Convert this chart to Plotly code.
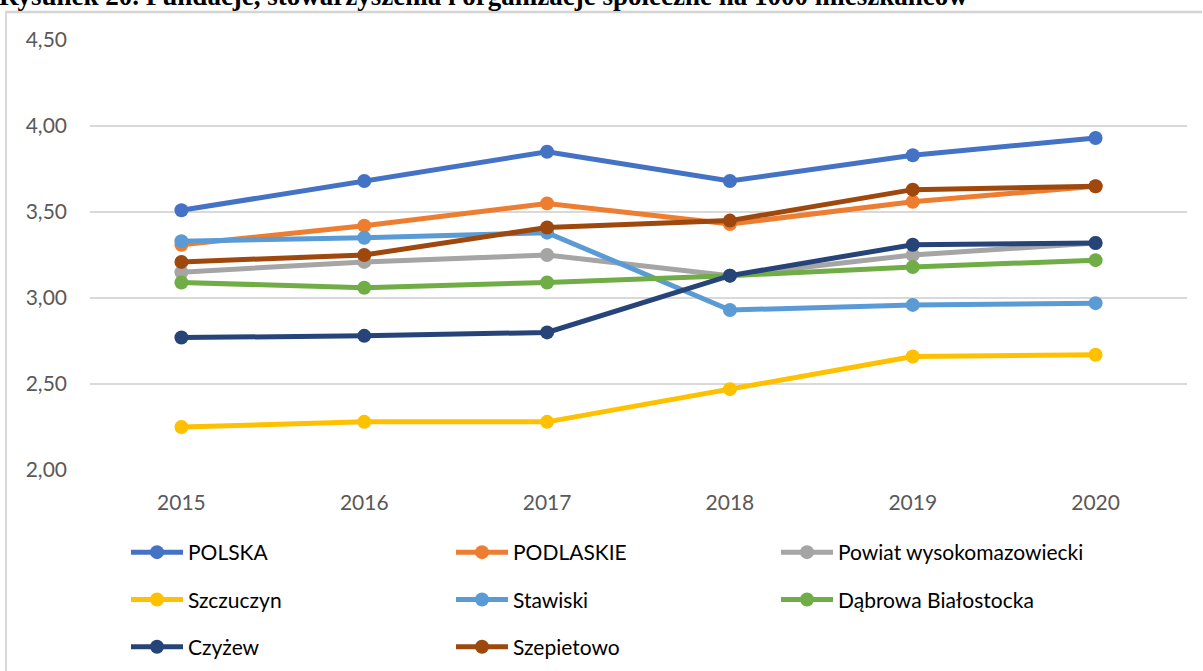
import plotly.graph_objects as go

years = ["2015", "2016", "2017", "2018", "2019", "2020"]

polska = [3.51, 3.68, 3.85, 3.68, 3.83, 3.93]
podlaskie = [3.31, 3.42, 3.55, 3.43, 3.56, 3.65]
powiat = [3.15, 3.21, 3.25, 3.13, 3.25, 3.32]
szczuczyn = [2.25, 2.28, 2.28, 2.47, 2.66, 2.67]
stawiski = [3.33, 3.35, 3.38, 2.93, 2.96, 2.97]
dabrowa = [3.09, 3.06, 3.09, 3.13, 3.18, 3.22]
czyzew = [2.77, 2.78, 2.80, 3.13, 3.31, 3.32]
szepietowo = [3.21, 3.25, 3.41, 3.45, 3.63, 3.65]

series_names = ["POLSKA", "PODLASKIE", "Powiat wysokomazowiecki", "Szczuczyn",
                "Stawiski", "Dąbrowa Białostocka", "Czyżew", "Szepietowo"]
series_values = [polska, podlaskie, powiat, szczuczyn, stawiski, dabrowa, czyzew, szepietowo]
colors = ["#4472C4", "#ED7D31", "#A5A5A5", "#FFC000", "#5B9BD5", "#70AD47", "#264478", "#9E480E"]
legend_ids = ["legend", "legend2", "legend3", "legend", "legend2", "legend3", "legend", "legend2"]

y_ticks = [2.0, 2.5, 3.0, 3.5, 4.0, 4.5]
y_ticktext = ["2,00", "2,50", "3,00", "3,50", "4,00", "4,50"]

title_text = "Rysunek 20. Fundacje, stowarzyszenia i organizacje społeczne na 1000 mieszkańców"

W, H = 1203, 671
ml, mr, mt, mb = 90, 16, 40, 201
pw = W - ml - mr
ph = H - mt - mb

def px_x(p):
    return (p - ml) / pw

def px_y(p):
    return (H - mb - p) / ph

fig = go.Figure()
for i, (name, vals, col, lg) in enumerate(zip(series_names, series_values, colors, legend_ids)):
    fig.add_trace(go.Scatter(
        x=years, y=vals, name=name, mode="lines+markers",
        line=dict(color=col, width=5),
        marker=dict(color=col, size=14),
        legend=lg, legendgroup="g%d" % i,
    ))

font_family = "Lato, 'Noto Sans', sans-serif"
legend_common = dict(
    orientation="v", xanchor="left", yanchor="top",
    font=dict(family=font_family, size=21, color="#000000"),
    tracegroupgap=17, bgcolor="rgba(0,0,0,0)", itemwidth=52,
)

fig.update_layout(
    width=W, height=H,
    margin=dict(l=ml, r=mr, t=mt, b=mb, autoexpand=False),
    paper_bgcolor="white", plot_bgcolor="white",
    font=dict(family=font_family, size=20, color="#595959"),
    xaxis=dict(
        type="category", range=[-0.5, 5.5], showgrid=False, zeroline=False,
        showline=False, ticks="", tickfont=dict(size=21, color="#595959"),
        ticklabelstandoff=18, fixedrange=True, automargin=False,
    ),
    yaxis=dict(
        range=[2.0, 4.5], tickvals=y_ticks, ticktext=y_ticktext,
        showgrid=True, gridcolor="#D9D9D9", gridwidth=1.5, zeroline=False,
        showline=False, ticks="", tickfont=dict(size=21, color="#595959"),
        ticklabelstandoff=22, fixedrange=True, automargin=False,
    ),
    legend=dict(x=px_x(126), y=px_y(532), **legend_common),
    legend2=dict(x=px_x(451), y=px_y(532), **legend_common),
    legend3=dict(x=px_x(776), y=px_y(532), **legend_common),
    showlegend=True,
)

# chart-area frame (top and left edges visible in the reference)
fig.add_shape(type="line", xref="paper", yref="paper",
              x0=px_x(5), x1=px_x(W - 1), y0=px_y(12), y1=px_y(12),
              line=dict(color="#D4D4D4", width=2.5), layer="above")
fig.add_shape(type="line", xref="paper", yref="paper",
              x0=px_x(6), x1=px_x(6), y0=px_y(11), y1=px_y(H + 20),
              line=dict(color="#D9D9D9", width=2), layer="above")

fig.add_annotation(
    text="<b>" + title_text + "</b>", xref="paper", yref="paper",
    x=px_x(-3), y=px_y(13), xanchor="left", yanchor="bottom",
    showarrow=False, font=dict(family="'Liberation Serif', 'Times New Roman', serif", size=27, color="#000000"),
)

fig.write_html(
    "out.html",
    config={"displayModeBar": False},
    post_script="document.body.style.margin='0px';document.body.style.overflow='hidden';",
)
